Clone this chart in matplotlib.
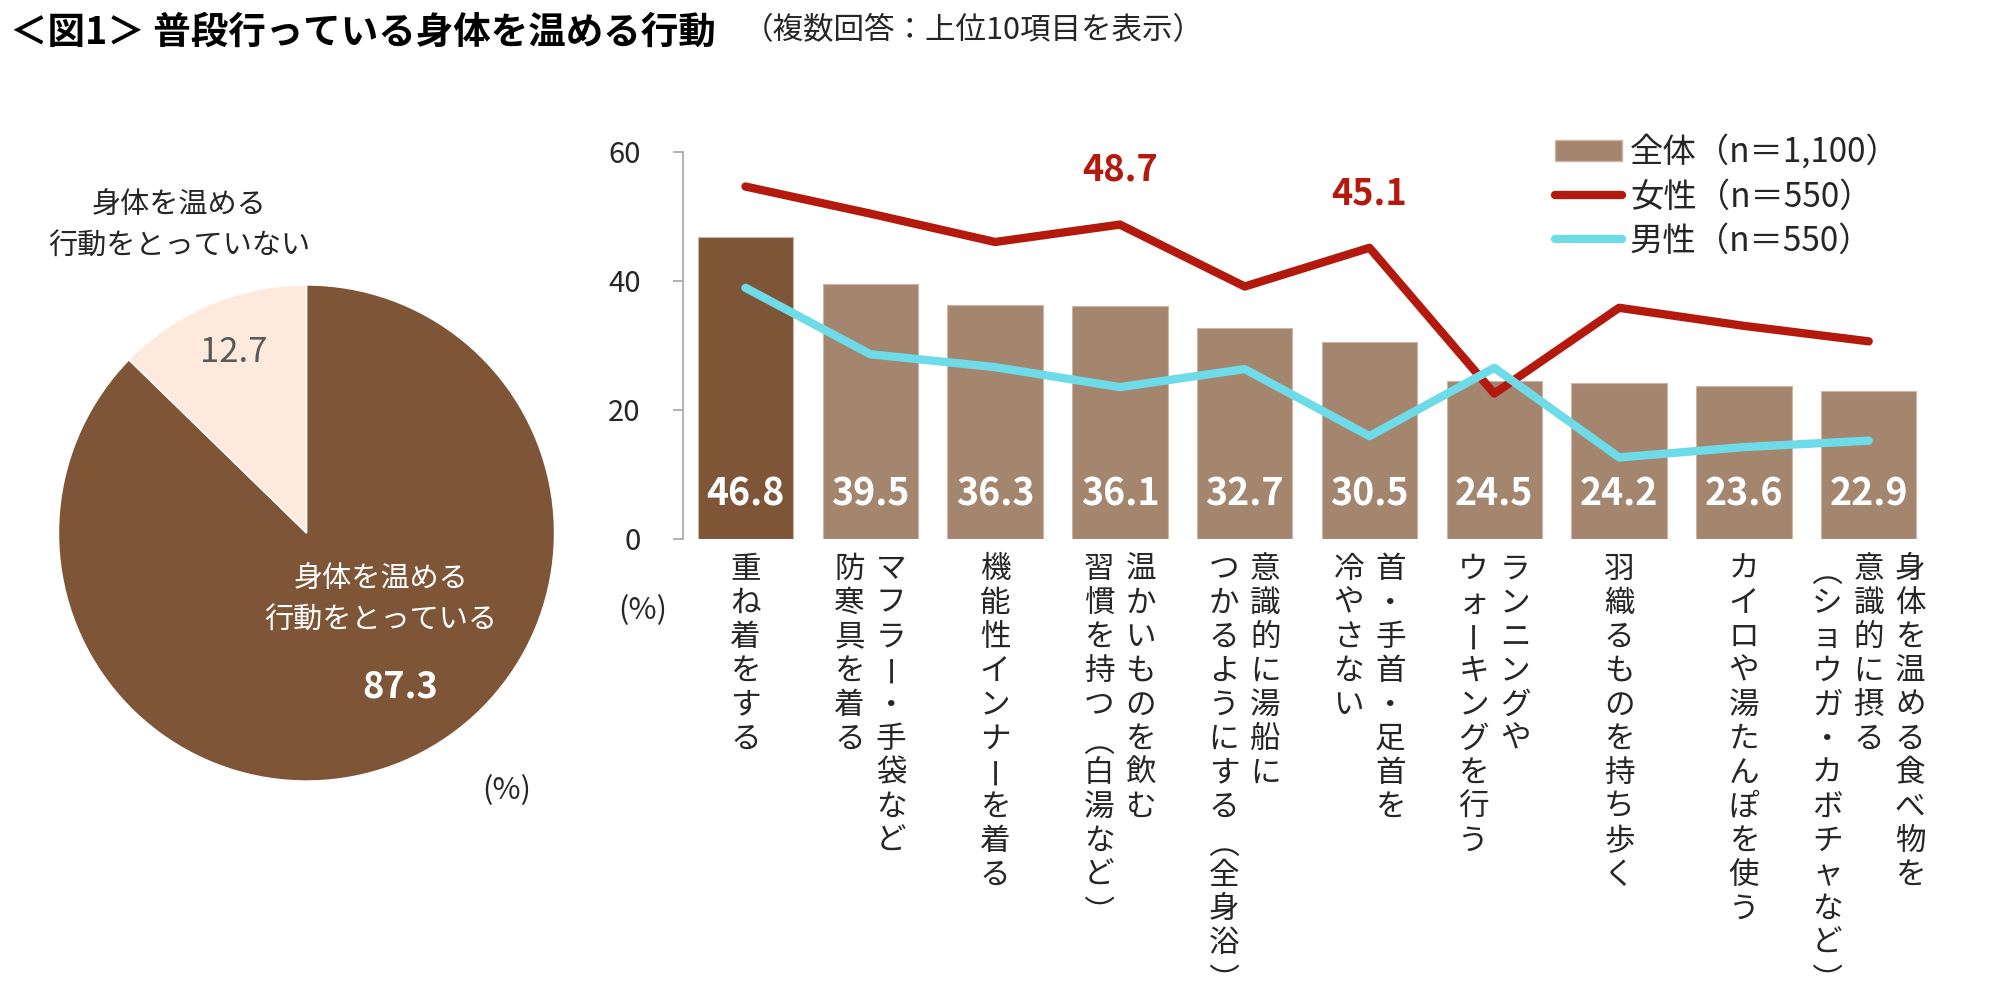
import matplotlib
matplotlib.use("Agg")
import numpy as np
import matplotlib.pyplot as plt
from matplotlib.patches import Patch
from matplotlib.lines import Line2D
from matplotlib.transforms import offset_copy

plt.rcParams['font.family'] = ['Noto Sans CJK JP', 'DejaVu Sans']

# ---- data ----
pie_labels = ['身体を温める\n行動をとっている', '身体を温める\n行動をとっていない']
pie_values = [87.3, 12.7]

categories = [
    ['重ね着をする'],
    ['マフラー・手袋など', '防寒具を着る'],
    ['機能性インナーを着る'],
    ['温かいものを飲む', '習慣を持つ（白湯など）'],
    ['意識的に湯船に', 'つかるようにする（全身浴）'],
    ['首・手首・足首を', '冷やさない'],
    ['ランニングや', 'ウォーキングを行う'],
    ['羽織るものを持ち歩く'],
    ['カイロや湯たんぽを使う'],
    ['身体を温める食べ物を', '意識的に摂る', '（ショウガ・カボチャなど）'],
]
total = [46.8, 39.5, 36.3, 36.1, 32.7, 30.5, 24.5, 24.2, 23.6, 22.9]
female = [54.6, 50.4, 46.0, 48.7, 39.1, 45.1, 22.5, 35.8, 33.0, 30.6]
male = [38.9, 28.6, 26.6, 23.5, 26.3, 15.9, 26.5, 12.6, 14.2, 15.2]
female_marked = [3, 5]   # points with a value label

series_names = ['全体（n＝1,100）', '女性（n＝550）', '男性（n＝550）']

dark_brown = '#7E5637'
light_brown = '#A4866F'
red = '#B3190C'
cyan = '#6EDCE8'
pale = '#FDEADC'
txt = '#262626'

W, H = 2000, 997
DPI = 100
label_size = 22


def ink_offset(ch, rotation):
    # where the ink of a turned glyph lands relative to its anchor (px, right/down)
    f = plt.figure(figsize=(2, 2), dpi=DPI)
    f.text(0.5, 0.5, ch, fontsize=label_size, ha='center', va='center',
           rotation=rotation, rotation_mode='anchor')
    f.canvas.draw()
    a = np.asarray(f.canvas.buffer_rgba())[:, :, 0]
    ys, xs = np.nonzero(a < 128)
    plt.close(f)
    return (xs.min() + xs.max()) / 2 - 100, (ys.min() + ys.max()) / 2 - 100


rotated = {ch: ink_offset(ch, -90) for ch in '（）ー'}

fig = plt.figure(figsize=(W / DPI, H / DPI), dpi=DPI)


def fx(px):
    return px / W


def fy(py):
    return 1 - py / H


# title
fig.text(fx(10), fy(32), '＜図1＞ 普段行っている身体を温める行動', fontsize=27,
         weight='bold', color='black', va='center')
fig.text(fx(743), fy(31), '（複数回答：上位10項目を表示）', fontsize=22,
         color=txt, va='center')

# ---- pie ----
cx, cy, r = 306.5, 533, 248
axp = fig.add_axes([fx(cx - r), fy(cy + r), 2 * r / W, 2 * r / H])
axp.pie(pie_values, colors=[dark_brown, pale], startangle=90, counterclock=False,
        wedgeprops=dict(edgecolor='white', linewidth=1))
axp.set_xlim(-1, 1)
axp.set_ylim(-1, 1)

l1, l2 = pie_labels[0].split('\n')
fig.text(fx(381), fy(579), l1, fontsize=21, color='white', ha='center', va='center')
fig.text(fx(381), fy(621), l2, fontsize=21, color='white', ha='center', va='center')
fig.text(fx(400), fy(687), f'{pie_values[0]:.1f}', fontsize=26, weight='bold',
         color='white', ha='center', va='center')
m1, m2 = pie_labels[1].split('\n')
fig.text(fx(179), fy(205), m1, fontsize=21, color=txt, ha='center', va='center')
fig.text(fx(179), fy(247), m2, fontsize=21, color=txt, ha='center', va='center')
fig.text(fx(234), fy(353), f'{pie_values[1]:.1f}', fontsize=25, color='#595959',
         ha='center', va='center')
fig.text(fx(507), fy(791), '(%)', fontsize=22, color=txt, ha='center', va='center')

# ---- bar + line chart ----
ax = fig.add_axes([fx(683.1), fy(538.7), 1248 / W, (538.7 - 151.7) / H])
x = list(range(len(total)))
bar_colors = [dark_brown] + [light_brown] * (len(total) - 1)
ax.bar(x, total, width=0.765, color=bar_colors, edgecolor='#C9B6A6',
       linewidth=0.8, zorder=2)
ax.plot(x, female, color=red, linewidth=6, solid_capstyle='round', zorder=3)
ax.plot(x, male, color=cyan, linewidth=6, solid_capstyle='round', zorder=3)

for i, v in enumerate(total):
    ax.text(i, 6.9, f'{v:.1f}', color='white', fontsize=27, weight='bold',
            ha='center', va='center', zorder=4)

for i in female_marked:
    ax.annotate(f'{female[i]:.1f}', (i, female[i]), xytext=(0, 39),
                textcoords='offset points', ha='center', va='center',
                color=red, fontsize=26, weight='bold', annotation_clip=False)

ax.set_xlim(-0.5, len(total) - 0.5)
ax.set_ylim(0, 60)
ax.set_yticks([0, 20, 40, 60])
ax.tick_params(axis='y', labelsize=21, labelcolor=txt, color='#A6A6A6',
               length=7.2, width=1.2, pad=23.5)
ax.set_xticks([])
for s in ['top', 'right', 'bottom']:
    ax.spines[s].set_visible(False)
ax.spines['left'].set_color('#A6A6A6')
ax.spines['left'].set_linewidth(1.2)
ax.patch.set_alpha(0)

fig.text(fx(643), fy(611), '(%)', fontsize=22, color=txt, ha='center', va='center')

# vertical category labels (one character per cell, columns right to left)
pitch = 34.0
col_gap = 41.5
first_cell = 30.5          # px below the zero line to the centre of the first cell
shift = {'（': 0.30, '）': -0.27}   # brackets sit low / high in their cell

for i, cols in enumerate(categories):
    n = len(cols)
    for k, col in enumerate(cols):
        dx = ((n - 1) / 2 - k) * col_gap
        for j, ch in enumerate(col):
            yc = first_cell + j * pitch + shift.get(ch, 0) * pitch
            if ch in rotated:
                ox, oy = rotated[ch]
                tr = offset_copy(ax.transData, fig=fig, x=dx - ox, y=-yc + oy,
                                 units='dots')
                ax.text(i, 0, ch, transform=tr, fontsize=label_size, color=txt,
                        ha='center', va='center', rotation=-90,
                        rotation_mode='anchor', clip_on=False)
            else:
                tr = offset_copy(ax.transData, fig=fig, x=dx, y=-yc, units='dots')
                ax.text(i, 0, ch, transform=tr, fontsize=label_size, color=txt,
                        ha='center', va='center', clip_on=False)

# legend
handles = [Patch(facecolor=light_brown, edgecolor='#C9B6A6'),
           Line2D([], [], color=red, linewidth=6, solid_capstyle='round'),
           Line2D([], [], color=cyan, linewidth=6, solid_capstyle='round')]
fig.legend(handles, series_names, loc='upper left',
           bbox_to_anchor=(fx(1555), fy(135)), bbox_transform=fig.transFigure,
           frameon=False, fontsize=24, borderpad=0, borderaxespad=0,
           handlelength=2.0, handleheight=0.6, handletextpad=0.25,
           labelspacing=0.28, labelcolor=txt)

fig.savefig('out.png', dpi=DPI)
